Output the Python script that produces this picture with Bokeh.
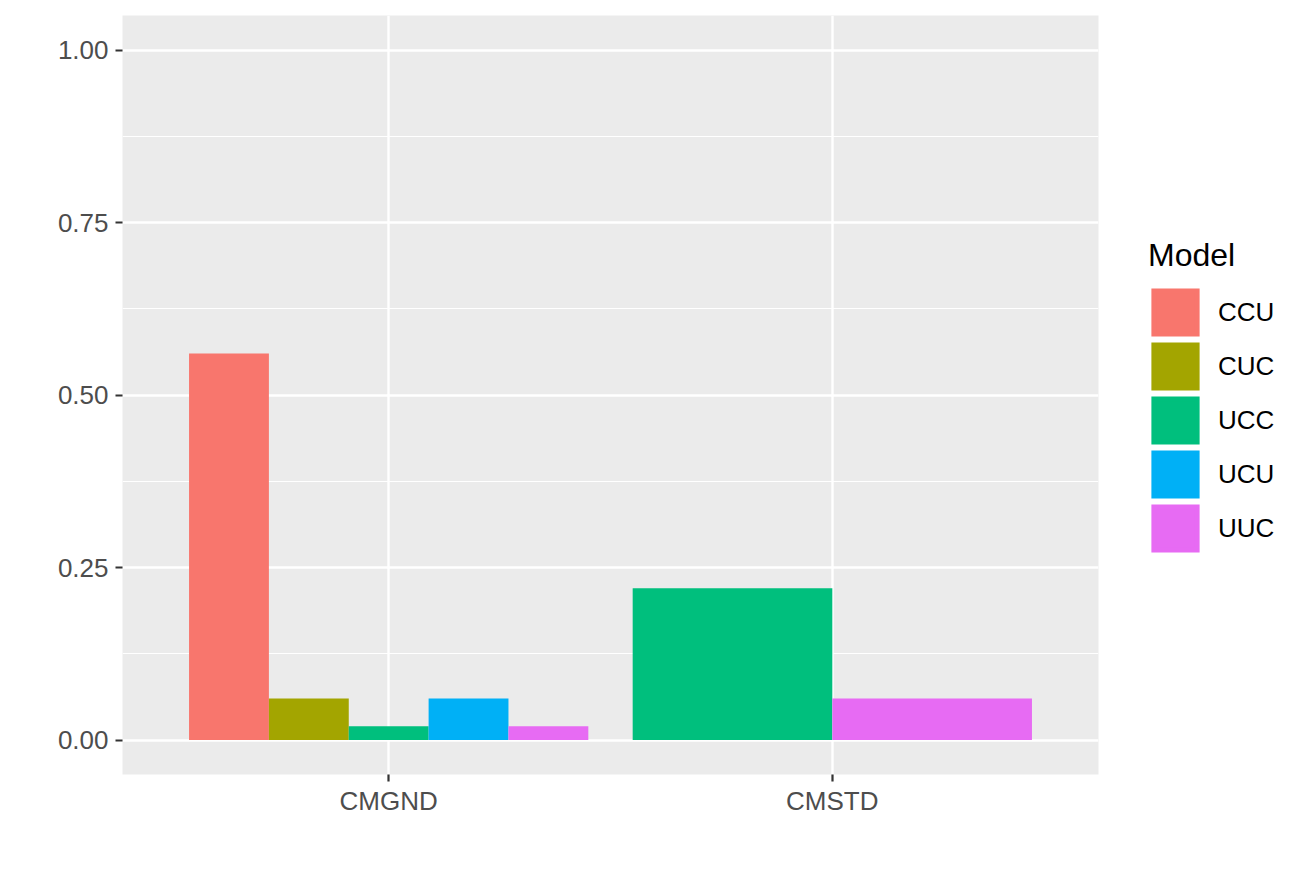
import numpy as np
from bokeh.plotting import figure
from bokeh.models import ColumnDataSource, FixedTicker, Legend, LegendItem, Range1d
from bokeh.embed import file_html
from bokeh.resources import INLINE

categories = ["CMGND", "CMSTD"]
models = ["CCU", "CUC", "UCC", "UCU", "UUC"]
colors = ["#F8766D", "#A3A500", "#00BF7D", "#00B0F6", "#E76BF3"]
# values per model for each category (None = absent)
values = {
    "CCU": [0.56, None],
    "CUC": [0.06, None],
    "UCC": [0.02, 0.22],
    "UCU": [0.06, None],
    "UUC": [0.02, 0.06],
}
y_ticks = [0.0, 0.25, 0.5, 0.75, 1.0]
y_tick_labels = ["0.00", "0.25", "0.50", "0.75", "1.00"]
y_minor = [0.125, 0.375, 0.625, 0.875]

FONT = "Liberation Sans"

p = figure(frame_width=976, frame_height=759, output_backend="svg", toolbar_location=None,
           x_range=Range1d(0.4, 2.6), y_range=Range1d(-0.05, 1.05),
           min_border_left=122, min_border_top=15, min_border_right=190, min_border_bottom=82)
p.background_fill_color = "#EBEBEB"
p.border_fill_color = "white"
p.outline_line_color = None

# dodge computation (ggplot position_dodge, total width 0.9)
legend_items = []
for mi, m in enumerate(models):
    xs, tops, ws = [], [], []
    for ci, c in enumerate(categories):
        present = [mm for mm in models if values[mm][ci] is not None]
        if values[m][ci] is None:
            continue
        n = len(present)
        w = 0.9 / n
        j = present.index(m)
        xs.append(ci + 1 - 0.45 + (j + 0.5) * w)
        tops.append(values[m][ci])
        ws.append(w)
    src = ColumnDataSource(dict(x=xs, top=tops, w=ws))
    p.vbar(x="x", top="top", bottom=0, width="w", source=src,
           fill_color=colors[mi], line_color=None)
    # legend key only (NaN -> nothing drawn in the plot area)
    key_src = ColumnDataSource(dict(x=np.array([np.nan]), top=np.array([np.nan])))
    key = p.vbar(x="x", top="top", bottom=0, width=0.1, source=key_src,
                 fill_color=colors[mi], line_color=colors[mi], line_width=5,
                 line_join="miter")
    legend_items.append(LegendItem(label=m, renderers=[key]))

# grids
p.ygrid.ticker = FixedTicker(ticks=y_ticks, minor_ticks=y_minor)
p.ygrid.grid_line_color = "white"
p.ygrid.grid_line_width = 2.4
p.ygrid.minor_grid_line_color = "white"
p.ygrid.minor_grid_line_width = 1.2
p.xgrid.ticker = FixedTicker(ticks=[1, 2])
p.xgrid.grid_line_color = "white"
p.xgrid.grid_line_width = 2.4

# axes
p.yaxis.ticker = FixedTicker(ticks=y_ticks)
p.yaxis.major_label_overrides = {t: l for t, l in zip(y_ticks, y_tick_labels)}
p.xaxis.ticker = FixedTicker(ticks=[1, 2])
p.xaxis.major_label_overrides = {i + 1: c for i, c in enumerate(categories)}
for ax in (p.xaxis, p.yaxis):
    ax.axis_line_color = None
    ax.major_tick_line_color = "#333333"
    ax.major_tick_line_width = 2.2
    ax.major_tick_out = 7
    ax.major_tick_in = 0
    ax.minor_tick_line_color = None
    ax.major_label_text_color = "#4D4D4D"
    ax.major_label_text_font = FONT
    ax.major_label_text_font_size = "26px"
p.yaxis.major_label_standoff = 7
p.xaxis.major_label_standoff = 4

legend = Legend(items=legend_items, location=(50, 219))
legend.title = "Model"
legend.title_text_font = FONT
legend.title_text_font_size = "32px"
legend.title_text_font_style = "normal"
legend.title_text_color = "black"
legend.title_standoff = 11
legend.label_text_font = FONT
legend.label_text_font_size = "26px"
legend.label_text_color = "black"
legend.glyph_width = 54
legend.glyph_height = 54
legend.spacing = 0
legend.label_standoff = 16
legend.padding = 0
legend.margin = 0
legend.background_fill_alpha = 0
legend.border_line_alpha = 0
p.add_layout(legend, "right")

open("out.html", "w").write(file_html(p, INLINE))
